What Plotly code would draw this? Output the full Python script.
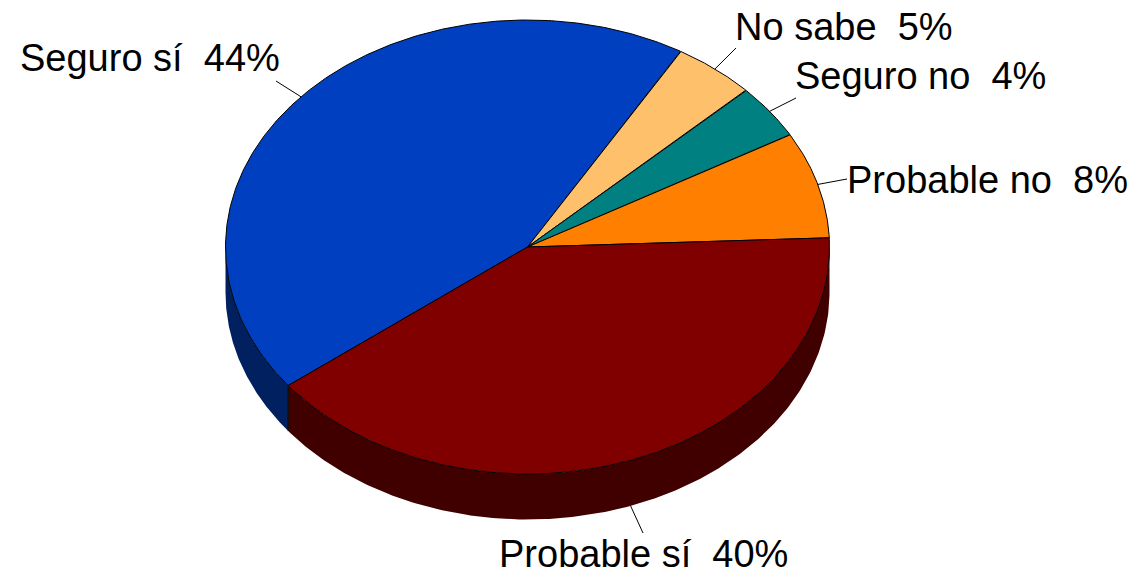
import numpy as np
import plotly.graph_objects as go

# Data (drawn shares; printed percentages from the labels)
categories = ["Seguro sí", "No sabe", "Seguro no", "Probable no", "Probable sí"]
shares = [43.9, 4.4, 3.9, 7.6, 40.2]
printed_pct = [44, 5, 4, 8, 40]

# Style
top_colors = ["#0040C0", "#FFC06C", "#008080", "#FF8000", "#800000"]
wall_colors = ["#002060", "#806036", "#004040", "#804000", "#400000"]
label_left = [19, 734, 794, 846, 498]
label_mid = [58, 27, 76, 180, 554]
leader_end = [(276, 81), (736, 48), (796, 98), (847, 179), (643, 533)]
leader_on_wall = [False, False, False, False, True]

W, H = 1133, 575
CX, CY, RX, RY, DEPTH = 527.5, 247.0, 302.0, 227.0, 45.5
START = 232.4  # clockwise from top, in ellipse parameter degrees


def ell(deg, dy=0.0):
    t = np.radians(deg)
    return CX + RX * np.sin(t), CY - RY * np.cos(t) + dy


fig = go.Figure()
common = dict(mode="lines", hoverinfo="skip", showlegend=False)

edges = START + np.concatenate([[0], np.cumsum(shares)]) * 3.6
slices = list(zip(edges[:-1], edges[1:]))

# Walls: only the front half of the rim (90..270 degrees, and its 360 shift) shows
for (a, b), col in zip(slices, wall_colors):
    for lo, hi in ((90, 270), (450, 630)):
        s, e = max(a, lo), min(b, hi)
        if e <= s:
            continue
        d = np.linspace(s, e, 200)
        xt, yt = ell(d)
        xb, yb = ell(d[::-1], DEPTH)
        fig.add_trace(go.Scatter(x=np.r_[xt, xb], y=np.r_[yt, yb], fill="toself",
                                 fillcolor=col, line=dict(width=0), **common))

# Vertical edge between the two visible wall colours
x0, y0 = ell(START)
fig.add_trace(go.Scatter(x=[x0, x0], y=[y0, y0 + DEPTH],
                         line=dict(color="#000000", width=1), **common))

# Top faces
for (a, b), col in zip(slices, top_colors):
    d = np.linspace(a, b, 300)
    xt, yt = ell(d)
    fig.add_trace(go.Scatter(x=np.r_[CX, xt, CX], y=np.r_[CY, yt, CY], fill="toself",
                             fillcolor=col, line=dict(color="#000000", width=1), **common))

# Leader lines and labels
for i, (a, b) in enumerate(slices):
    mx, my = ell((a + b) / 2, DEPTH if leader_on_wall[i] else 0.0)
    ex, ey = leader_end[i]
    fig.add_trace(go.Scatter(x=[mx, ex], y=[my, ey],
                             line=dict(color="#000000", width=1), **common))
    fig.add_annotation(x=label_left[i], y=label_mid[i], xref="x", yref="y",
                       text=f"{categories[i]}\u00a0\u00a0{printed_pct[i]}%",
                       showarrow=False, xanchor="left", yanchor="middle", borderpad=0,
                       font=dict(family="Liberation Sans", size=38, color="#000000"))

fig.update_layout(width=W, height=H, margin=dict(l=0, r=0, t=0, b=0),
                  paper_bgcolor="#FFFFFF", plot_bgcolor="#FFFFFF",
                  xaxis=dict(range=[0, W], visible=False),
                  yaxis=dict(range=[H, 0], visible=False))
fig.write_html("out.html", config=dict(displayModeBar=False),
               post_script="document.body.style.margin='0';document.body.style.overflow='hidden';")
